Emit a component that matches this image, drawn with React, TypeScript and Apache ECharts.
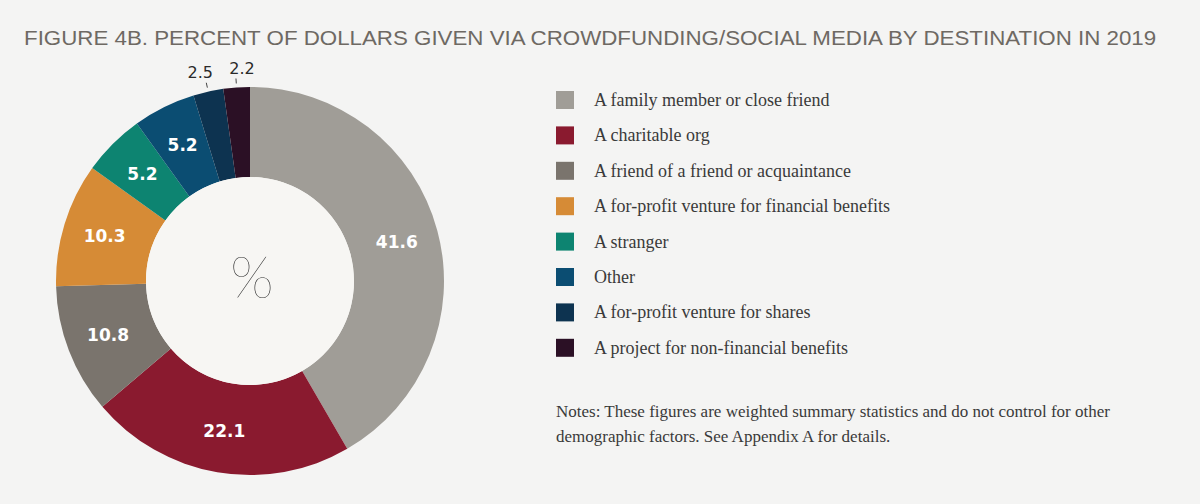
import React, { useEffect, useRef } from "react";
import * as echarts from "echarts";

const categories = [
  "A family member or close friend",
  "A charitable org",
  "A friend of a friend or acquaintance",
  "A for-profit venture for financial benefits",
  "A stranger",
  "Other",
  "A for-profit venture for shares",
  "A project for non-financial benefits",
];
const values = [41.6, 22.1, 10.8, 10.3, 5.2, 5.2, 2.5, 2.2];
const colors = ["#a09d97", "#8a1a2f", "#7a746d", "#d68b36", "#0d8471", "#0b4d72", "#0d3350", "#2b1025"];
const outsideLabelled = ["A for-profit venture for shares", "A project for non-financial benefits"];
const titleText =
  "FIGURE 4B. PERCENT OF DOLLARS GIVEN VIA CROWDFUNDING/SOCIAL MEDIA BY DESTINATION IN 2019";
const notesLines = [
  "Notes: These figures are weighted summary statistics and do not control for other",
  "demographic factors. See Appendix A for details.",
];
const centerSymbol = "%";

const BG = "#f4f4f3";
const TITLE_FONT = '21px "Liberation Sans", Arial, sans-serif';
const TITLE_WIDTH = 1137;
const LINE_GAP = 4;
const LABEL_SPREAD = 6;

function measure(text: string, font: string): number {
  const c = document.createElement("canvas").getContext("2d");
  if (!c) return TITLE_WIDTH;
  c.font = font;
  return c.measureText(text).width;
}

export default function App() {
  const ref = useRef<HTMLDivElement>(null);
  useEffect(() => {
    if (!ref.current) return;
    document.body.style.margin = "0";
    document.body.style.background = BG;
    const chart = echarts.init(ref.current, null, { renderer: "svg" });
    const titleScale = TITLE_WIDTH / measure(titleText, TITLE_FONT);

    const pieData = categories.map((name, i) => {
      const outside = outsideLabelled.includes(name);
      return {
        name,
        value: values[i],
        itemStyle: { color: colors[i] },
        label: outside
          ? {
              position: "outside",
              color: "#2a2a2a",
              fontWeight: "normal",
              fontSize: 16,
            }
          : { position: "inside" },
        labelLine: outside
          ? { show: true, length: 9, length2: 0, lineStyle: { color: "#444", width: 1 } }
          : { show: false },
      };
    });

    chart.setOption({
      animation: false,
      backgroundColor: BG,
      legend: {
        data: categories,
        orient: "vertical",
        left: 556,
        top: 91,
        padding: 0,
        icon: "rect",
        itemWidth: 18,
        itemHeight: 18,
        itemGap: 17.4,
        selectedMode: false,
        textStyle: {
          fontFamily: '"Liberation Serif", "Times New Roman", serif',
          fontSize: 18,
          color: "#3a3a3a",
          lineHeight: 18,
          padding: [0, 0, 0, 15],
        },
      },
      graphic: [
        {
          type: "text",
          x: 24,
          y: 38,
          scaleX: titleScale,
          style: {
            text: titleText,
            font: TITLE_FONT,
            fill: "#6e6963",
            textAlign: "left",
            textVerticalAlign: "middle",
            align: "left",
            verticalAlign: "middle",
          },
        },
        {
          type: "text",
          x: 556,
          y: 399,
          style: {
            text: notesLines.join("\n"),
            fontFamily: '"Liberation Serif", "Times New Roman", serif',
            fontSize: 17,
            lineHeight: 25,
            fill: "#3a3a3a",
          },
        },
      ],
      series: [
        {
          type: "pie",
          name: "destinations",
          center: [250, 281],
          radius: [104, 194],
          startAngle: 90,
          clockwise: true,
          avoidLabelOverlap: false,
          silent: true,
          data: pieData,
          label: {
            show: true,
            formatter: "{c}",
            color: "#ffffff",
            fontFamily: '"DejaVu Sans", sans-serif',
            fontWeight: "bold",
            fontSize: 17,
          },
          labelLayout: (params: any) => {
            const pts = params.labelLinePoints;
            if (!pts || !pts.length) return {};
            const start = pts[0];
            const end = pts[pts.length - 1];
            const dxl = end[0] - start[0];
            const dyl = end[1] - start[1];
            const len = Math.sqrt(dxl * dxl + dyl * dyl) || 1;
            const s = [start[0] + (dxl / len) * LINE_GAP, start[1] + (dyl / len) * LINE_GAP];
            const idx = outsideLabelled.indexOf(categories[params.dataIndex]);
            const shift = idx === 0 ? -LABEL_SPREAD : LABEL_SPREAD;
            return {
              x: end[0] + shift,
              y: end[1] - 2,
              align: "center",
              verticalAlign: "bottom",
              labelLinePoints: [s, end, end],
            };
          },
          emphasis: { disabled: true },
        },
        {
          type: "pie",
          name: "hole",
          center: [250, 281],
          radius: [0, 104],
          silent: true,
          data: [{ name: centerSymbol, value: 1, itemStyle: { color: "#f7f6f3" } }],
          label: {
            show: true,
            position: "center",
            formatter: centerSymbol,
            fontFamily: "Lato, Roboto, sans-serif",
            fontWeight: 200,
            fontSize: 57,
            color: "#2a2a2a",
          },
          labelLayout: { dx: 2, dy: -5 },
          labelLine: { show: false },
          emphasis: { disabled: true },
        },
      ],
    });
    return () => chart.dispose();
  }, []);
  return (
    <div
      ref={ref}
      style={{ position: "fixed", left: 0, top: 0, width: 1200, height: 504, background: BG }}
    />
  );
}
